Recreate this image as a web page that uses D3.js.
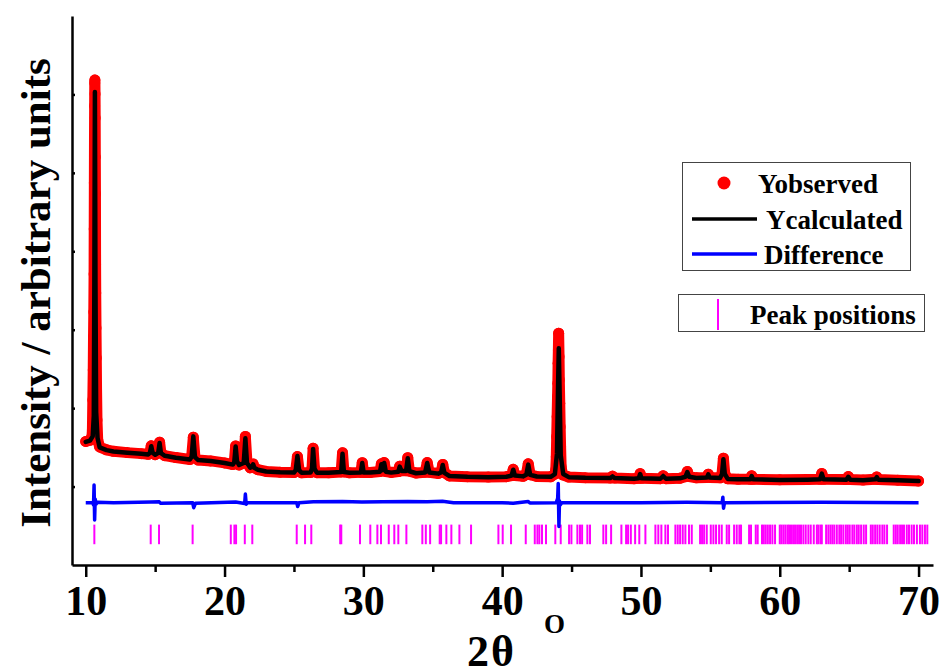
<!DOCTYPE html>
<html>
<head>
<meta charset="utf-8">
<script src="https://cdnjs.cloudflare.com/ajax/libs/d3/7.8.5/d3.min.js"></script>
<style>
    body { margin: 0; background: #fff; }
    #chart { width: 943px; height: 671px; }
    .axis path, .axis line { stroke: #000; stroke-width: 2.5; }
    .axis text { font-family: "Liberation Serif", "Times New Roman", serif; font-weight: bold; font-size: 42px; fill: #000; }
    .title { font-family: "Liberation Serif", "Times New Roman", serif; font-weight: bold; fill: #000; }
</style>
</head>
<body>
<div id="chart"></div>
<script>
// 2theta (deg) / intensity pairs
const calculated = [
    [10.00, 570], [10.30, 585], [10.50, 640], [10.58, 900], [10.62, 2600], [10.66, 5030], [10.70, 2600],
    [10.75, 950], [10.85, 620], [11.00, 500], [11.50, 465], [12.00, 448], [13.00, 432], [14.00, 418],
    [14.50, 410], [14.62, 430], [14.72, 515], [14.82, 430], [15.00, 405], [15.22, 430], [15.32, 555],
    [15.42, 425], [15.70, 392], [16.50, 368], [17.50, 345], [17.63, 380], [17.75, 640], [17.87, 375],
    [18.10, 338], [19.00, 326], [20.00, 300], [20.60, 280], [20.70, 310], [20.80, 510], [20.90, 320],
    [21.05, 275], [21.38, 300], [21.50, 615], [21.62, 300], [21.85, 240], [21.98, 250], [22.06, 285],
    [22.14, 240], [22.40, 215], [23.00, 192], [24.00, 182], [25.00, 178], [25.13, 210], [25.25, 390],
    [25.37, 210], [25.55, 176], [26.20, 180], [26.30, 230], [26.38, 480], [26.48, 230], [26.65, 176],
    [27.50, 175], [28.40, 185], [28.50, 420], [28.60, 185], [29.00, 175], [29.82, 180], [29.92, 300],
    [30.02, 180], [30.50, 178], [31.20, 190], [31.30, 285], [31.40, 210], [31.50, 300], [31.62, 190],
    [32.00, 178], [32.52, 190], [32.62, 255], [32.75, 200], [33.08, 200], [33.20, 360], [33.32, 195],
    [33.80, 170], [34.45, 180], [34.60, 300], [34.75, 180], [35.40, 165], [35.60, 180], [35.72, 275],
    [35.84, 175], [36.20, 135], [37.50, 125], [39.00, 120], [40.30, 125], [40.68, 140], [40.80, 215],
    [40.92, 140], [41.50, 130], [41.74, 150], [41.88, 280], [42.02, 150], [42.50, 128], [43.50, 125],
    [43.80, 160], [43.95, 420], [44.02, 1200], [44.08, 1763], [44.14, 1200], [44.22, 400], [44.40, 160],
    [44.80, 120], [46.00, 112], [47.80, 108], [47.95, 130], [48.10, 108], [49.50, 100], [49.84, 105],
    [49.94, 160], [50.04, 105], [51.40, 100], [51.60, 135], [51.80, 100], [52.80, 105], [53.20, 125],
    [53.34, 185], [53.48, 125], [54.00, 110], [54.75, 115], [54.85, 155], [54.95, 115], [55.70, 110],
    [55.84, 160], [55.94, 348], [56.04, 160], [56.25, 98], [57.00, 92], [57.88, 92], [57.98, 135],
    [58.08, 92], [60.00, 85], [62.00, 88], [62.90, 92], [63.03, 165], [63.16, 92], [64.80, 88],
    [64.94, 125], [65.08, 88], [66.00, 82], [66.88, 92], [66.99, 120], [67.10, 88], [68.50, 80],
    [70.00, 70]
]
const observed = [
    [10.00, 575], [10.30, 590], [10.45, 640], [10.48, 722], [10.51, 1104], [10.54, 1487], [10.56, 1907],
    [10.58, 2225], [10.60, 2710], [10.61, 3284], [10.62, 3871], [10.63, 4432], [10.64, 4853], [10.65, 5145],
    [10.66, 5183], [10.67, 5006], [10.68, 4700], [10.69, 4202], [10.70, 3731], [10.71, 2838], [10.72, 2468],
    [10.74, 2022], [10.76, 1640], [10.78, 1232], [10.81, 849], [10.86, 600], [11.00, 505], [11.50, 468],
    [12.00, 450], [13.00, 433], [14.00, 420], [14.50, 412], [14.62, 432], [14.72, 520], [14.82, 432],
    [15.00, 407], [15.22, 432], [15.32, 565], [15.42, 428], [15.70, 394], [16.50, 370], [17.50, 346],
    [17.63, 382], [17.75, 630], [17.87, 372], [18.10, 338], [19.00, 327], [20.00, 302], [20.60, 281],
    [20.70, 312], [20.80, 518], [20.90, 322], [21.05, 276], [21.38, 302], [21.50, 640], [21.62, 300],
    [21.85, 240], [21.98, 252], [22.06, 288], [22.14, 241], [22.40, 216], [23.00, 193], [24.00, 183],
    [25.00, 178], [25.13, 208], [25.25, 382], [25.37, 208], [25.55, 176], [26.20, 181], [26.30, 232],
    [26.38, 488], [26.48, 232], [26.65, 177], [27.50, 176], [28.40, 187], [28.50, 430], [28.60, 187],
    [29.00, 176], [29.82, 181], [29.92, 305], [30.02, 181], [30.50, 180], [31.20, 192], [31.30, 290],
    [31.40, 212], [31.50, 306], [31.62, 192], [32.00, 180], [32.52, 192], [32.62, 260], [32.75, 202],
    [33.08, 202], [33.20, 368], [33.32, 197], [33.80, 172], [34.45, 182], [34.60, 306], [34.75, 182],
    [35.40, 167], [35.60, 182], [35.72, 282], [35.84, 177], [36.20, 136], [37.50, 126], [39.00, 121],
    [40.30, 126], [40.68, 141], [40.80, 220], [40.92, 141], [41.50, 131], [41.74, 152], [41.88, 290],
    [42.02, 152], [42.50, 129], [43.50, 125], [43.80, 160], [43.86, 212], [43.90, 381], [43.93, 636],
    [43.96, 891], [43.99, 1146], [44.01, 1317], [44.03, 1572], [44.05, 1741], [44.07, 1955], [44.10, 1656],
    [44.12, 1359], [44.15, 1062], [44.18, 764], [44.21, 509], [44.25, 254], [44.35, 150], [44.80, 122],
    [46.00, 113], [47.80, 109], [47.95, 132], [48.10, 109], [49.50, 101], [49.84, 106], [49.94, 165],
    [50.04, 106], [51.40, 101], [51.60, 138], [51.80, 101], [52.80, 106], [53.20, 127], [53.34, 192],
    [53.48, 127], [54.00, 111], [54.75, 116], [54.85, 158], [54.95, 116], [55.70, 111], [55.84, 165],
    [55.94, 362], [56.04, 162], [56.25, 99], [57.00, 93], [57.88, 93], [57.98, 138], [58.08, 93],
    [60.00, 86], [62.00, 89], [62.90, 93], [63.03, 168], [63.16, 93], [64.80, 89], [64.94, 128],
    [65.08, 89], [66.00, 83], [66.88, 93], [66.99, 122], [67.10, 89], [68.50, 81], [70.00, 71]
]
const difference = [
    [10.00, -205], [10.50, -205], [10.56, -235], [10.60, 20], [10.64, -426], [10.68, -160], [10.74, -225],
    [10.85, -200], [12.00, -205], [14.70, -198], [15.30, -195], [15.40, -214], [17.70, -205], [17.78, -270],
    [17.90, -214], [20.80, -196], [21.45, -215], [21.50, -95], [21.56, -225], [21.65, -205], [25.20, -205],
    [25.27, -255], [25.36, -205], [26.40, -195], [28.50, -190], [29.90, -196], [31.40, -192], [33.20, -190],
    [34.60, -195], [35.70, -186], [36.50, -205], [40.00, -205], [40.80, -212], [41.88, -190], [42.00, -210],
    [43.90, -205], [44.00, -150], [44.04, 40], [44.09, -510], [44.13, -180], [44.18, -235], [44.30, -205],
    [50.00, -205], [53.30, -200], [55.85, -205], [55.90, -135], [55.95, -275], [56.02, -205], [63.00, -200],
    [70.00, -205]
]
const peakPositions = [
    10.62, 14.68, 15.28, 17.70, 20.45, 20.71, 20.83, 21.46, 22.00,
    25.20, 25.80, 26.25, 28.33, 28.41, 29.76, 30.50, 31.01, 31.27, 31.83, 32.23, 32.52, 33.10, 34.25,
    34.50, 34.81, 35.50, 35.60, 35.98, 36.34, 36.92, 37.76, 39.73, 40.04,
    40.64, 41.70, 42.35, 42.54, 42.68, 42.87, 43.16, 43.83, 44.22, 44.82, 44.99, 45.42, 45.61, 45.76,
    46.14, 46.33, 47.29, 47.49, 47.85, 48.59, 48.93, 49.07, 49.27, 49.58, 49.88, 50.32, 51.04, 51.25,
    51.47, 51.76, 51.95, 52.48, 52.65, 52.82, 53.01, 53.20, 53.46, 53.66, 54.26, 54.40, 54.55, 54.74,
    55.03, 55.22, 55.41, 55.63, 55.82, 56.18, 56.35, 56.71, 56.90, 57.09, 57.21, 57.79, 57.93, 58.27,
    58.41, 58.72, 58.85, 58.99, 59.14, 59.30, 59.47, 59.66, 60.00, 60.12, 60.26, 60.40, 60.55, 60.67,
    60.81, 60.96, 61.10, 61.25, 61.39, 61.53, 61.70, 61.87, 62.06, 62.23, 62.45, 62.67, 62.78, 62.93,
    63.03, 63.34, 63.50, 63.65, 63.79, 63.93, 64.11, 64.29, 64.42, 64.58, 64.76, 64.90, 65.04, 65.23,
    65.37, 65.55, 65.69, 65.86, 66.05, 66.22, 66.56, 66.70, 66.87, 67.03, 67.20, 67.39, 67.54, 67.73,
    68.21, 68.36, 68.50, 68.67, 68.81, 68.95, 69.15, 69.31, 69.50, 69.67, 69.88, 70.10, 70.27, 70.46,
    70.63
]
const peakMarkRange = [-485, -735]
const xMajorTicks = [10, 20, 30, 40, 50, 60, 70]
const xMinorTicks = [15, 25, 35, 45, 55, 65]
const yTicks = [0, 1000, 2000, 3000, 4000, 5000]
const legendItems = ['Yobserved', 'Ycalculated', 'Difference']

const area = document.querySelector('#chart')
drawPattern()
function drawPattern(){
    const   margin  = {left : 72, top : 16},
            width   = 861,
            height  = 549;
    const svg = d3.select(area).append('svg')
    .attr('width', 943)
    .attr('height', 671)
    const chart = svg.append('g')
    .attr('transform', `translate(${margin.left},${margin.top})`)

    const xScale = d3.scaleLinear()
    .domain([9.01, 71.04])
    .range([0, width])
    const yScale = d3.scaleLinear()
    .domain([-1000, 6000])
    .range([height, 0])

    //Peak position marks
    chart.append('g')
    .selectAll('line')
    .data(peakPositions)
    .enter()
        .append('line')
        .attr('x1', (d) => xScale(d))
        .attr('x2', (d) => xScale(d))
        .attr('y1', yScale(peakMarkRange[0]))
        .attr('y2', yScale(peakMarkRange[1]))
        .attr('stroke', '#ff00ff')
        .attr('stroke-width', 2)

    const line = d3.line()
    .x((d) => xScale(d[0]))
    .y((d) => yScale(d[1]))

    //Difference
    chart.append('path')
    .datum(difference)
    .attr('d', line)
    .attr('fill', 'none')
    .attr('stroke', '#0000ff')
    .attr('stroke-width', 3.5)
    .attr('stroke-linejoin', 'round')

    //Observed (dense dots -> band)
    chart.append('path')
    .datum(observed)
    .attr('d', line)
    .attr('fill', 'none')
    .attr('stroke', '#ff0000')
    .attr('stroke-width', 11)
    .attr('stroke-linejoin', 'round')
    .attr('stroke-linecap', 'round')
    chart.append('g')
    .selectAll('circle')
    .data(observed)
    .enter()
        .append('circle')
        .attr('cx', (d) => xScale(d[0]))
        .attr('cy', (d) => yScale(d[1]))
        .attr('r', 5.5)
        .attr('fill', '#ff0000')

    //Calculated
    chart.append('path')
    .datum(calculated)
    .attr('d', line)
    .attr('fill', 'none')
    .attr('stroke', '#000')
    .attr('stroke-width', 4.5)
    .attr('stroke-linejoin', 'round')
    .attr('stroke-linecap', 'round')

    //Axes
    const xAxis = chart.append('g')
    .attr('class', 'axis')
    .attr('transform', `translate(0,${height})`)
    .call(d3.axisBottom(xScale).tickValues(xMajorTicks).tickSize(12).tickSizeOuter(0).tickFormat(d3.format('d')))
    xAxis.selectAll('text').attr('y', 50).attr('dy', 0)
    xAxis.attr('font-family', null).attr('font-size', null)

    chart.append('g')
    .attr('class', 'axis')
    .attr('transform', `translate(0,${height})`)
    .call(d3.axisBottom(xScale).tickValues(xMinorTicks).tickSize(7).tickFormat(''))
    .call((g) => g.select('.domain').remove())

    chart.append('g')
    .attr('class', 'axis')
    .call(d3.axisLeft(yScale).tickValues(yTicks).tickSize(-3).tickSizeOuter(0).tickFormat(''))

    //x Axis Title
    svg.append('text')
    .attr('class', 'title')
    .attr('x', 467)
    .attr('y', 666)
    .attr('font-size', 44)
    .attr('letter-spacing', 2)
    .text('2θ')
    svg.append('text')
    .attr('class', 'title')
    .attr('x', 544)
    .attr('y', 633)
    .attr('font-size', 27)
    .text('O')

    //y Axis Title
    svg.append('text')
    .attr('class', 'title')
    .attr('font-size', 43)
    .attr('text-anchor', 'middle')
    .attr('transform', 'translate(50,293) rotate(-90)')
    .text('Intensity / arbitrary units')

    //Legend
    const legend = svg.append('g')
    legend.append('rect')
    .attr('x', 682.5).attr('y', 162.5)
    .attr('width', 228).attr('height', 108)
    .attr('fill', '#fff').attr('stroke', '#444').attr('stroke-width', 1)
    legend.append('circle')
    .attr('cx', 724).attr('cy', 183).attr('r', 6.5)
    .attr('fill', '#ff0000')
    legend.append('line')
    .attr('x1', 692).attr('x2', 757).attr('y1', 219).attr('y2', 219)
    .attr('stroke', '#000').attr('stroke-width', 3.5)
    legend.append('line')
    .attr('x1', 692).attr('x2', 757).attr('y1', 254).attr('y2', 254)
    .attr('stroke', '#0000ff').attr('stroke-width', 3.5)
    legend.selectAll('text.item')
    .data(legendItems)
    .enter()
        .append('text')
        .attr('class', 'title item')
        .attr('font-size', 27)
        .attr('x', (d, i) => [758, 766, 764][i])
        .attr('y', (d, i) => 193 + i * 35.5)
        .text((d) => d)

    legend.append('rect')
    .attr('x', 678.5).attr('y', 294.5)
    .attr('width', 246).attr('height', 37)
    .attr('fill', '#fff').attr('stroke', '#444').attr('stroke-width', 1)
    legend.append('line')
    .attr('x1', 718).attr('x2', 718).attr('y1', 299).attr('y2', 330)
    .attr('stroke', '#ff00ff').attr('stroke-width', 2)
    legend.append('text')
    .attr('class', 'title')
    .attr('font-size', 27)
    .attr('x', 750).attr('y', 324)
    .text('Peak positions')
}
</script>
</body>
</html>
